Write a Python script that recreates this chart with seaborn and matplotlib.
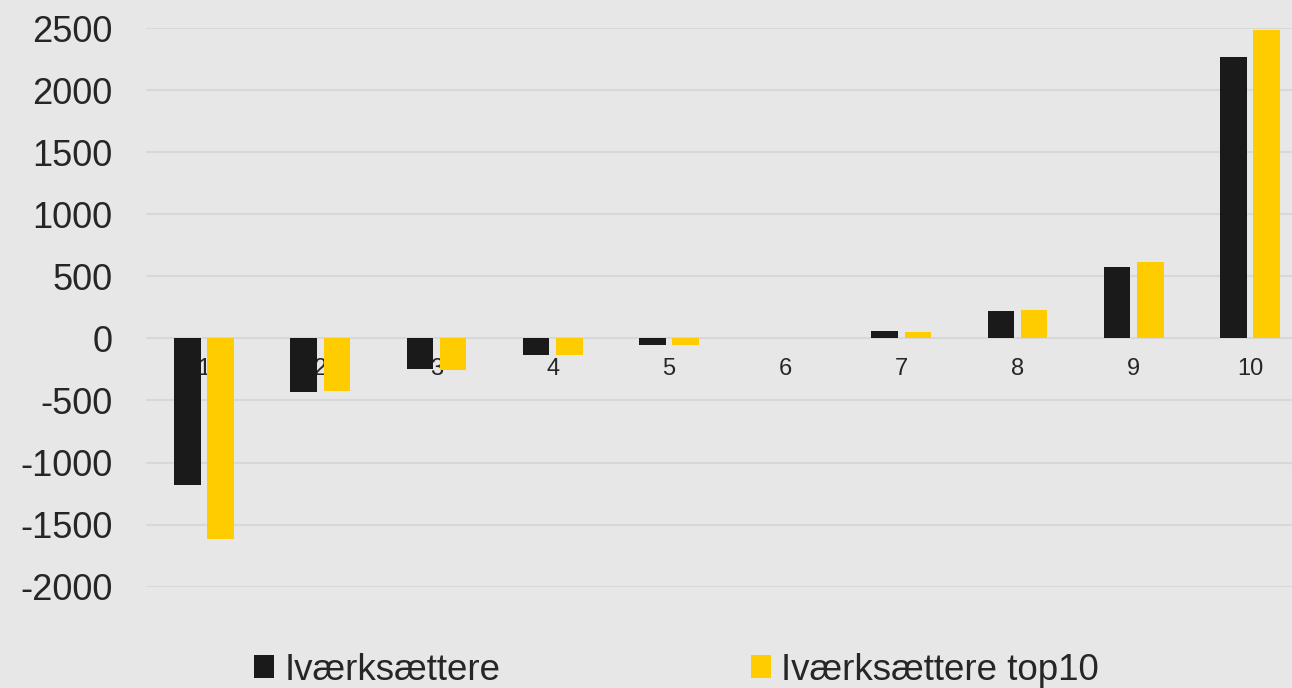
import seaborn as sns
import pandas as pd
import matplotlib.pyplot as plt

# Data
deciles = ['1', '2', '3', '4', '5', '6', '7', '8', '9', '10']
ivaerksaettere = [-1177, -435, -250, -137, -57, 0, 56, 218, 575, 2267]
ivaerksaettere_top10 = [-1618, -425, -253, -135, -57, 0, 55, 231, 613, 2483]
series_names = ['Iværksættere', 'Iværksættere top10']
y_ticks = [-2000, -1500, -1000, -500, 0, 500, 1000, 1500, 2000, 2500]

BG = '#E7E7E7'
TEXT = '#262626'


def build_frame():
    """Long format table for seaborn."""
    a = pd.DataFrame({'decile': deciles, 'value': ivaerksaettere, 'group': series_names[0]})
    b = pd.DataFrame({'decile': deciles, 'value': ivaerksaettere_top10, 'group': series_names[1]})
    return pd.concat([a, b], ignore_index=True)


def main():
    df = build_frame()

    sns.set_style('white', rc={'axes.facecolor': BG, 'figure.facecolor': BG})
    plt.rcParams['font.family'] = ['Liberation Sans', 'DejaVu Sans']

    fig = plt.figure(figsize=(12.92, 6.88), dpi=100)
    ax = fig.add_axes([146 / 1292, 1 - 586.7 / 688, 1162 / 1292, 558.7 / 688])

    sns.barplot(
        ax=ax,
        data=df,
        x='decile',
        y='value',
        hue='group',
        order=deciles,
        hue_order=series_names,
        palette=['#1A1A1A', '#FFCC00'],
        saturation=1,
        width=0.57,
        gap=0.2,
        linewidth=0,
        errorbar=None,
    )

    ax.set_ylim(-2000, 2500)
    ax.set_yticks(y_ticks)
    ax.set_yticklabels([str(v) for v in y_ticks])
    ax.set_xlim(-0.5, 9.5)

    # gridlines like the Excel original
    ax.yaxis.grid(True, color='#D8D8D8', linewidth=1.5)
    ax.set_axisbelow(True)
    for s in ax.spines.values():
        s.set_visible(False)

    # category labels sit on the zero line
    ax.spines['bottom'].set_position(('data', 0))
    ax.tick_params(axis='x', length=0, pad=14, labelsize=17, labelcolor=TEXT)
    ax.tick_params(axis='y', length=0, pad=24, labelsize=26, labelcolor=TEXT)
    ax.set_xlabel('')
    ax.set_ylabel('')

    handles, labels = ax.get_legend_handles_labels()
    ax.get_legend().remove()
    fig.legend(
        handles, labels,
        loc='center left',
        bbox_to_anchor=(254 / 1292, 1 - 670 / 688),
        ncol=2,
        frameon=False,
        fontsize=26.5,
        handlelength=0.55,
        handleheight=0.55,
        handletextpad=0.28,
        columnspacing=6.8,
        borderpad=0,
        borderaxespad=0,
        labelcolor=TEXT,
    )

    plt.savefig('out.png', dpi=100, facecolor=BG)


if __name__ == "__main__":
    main()
